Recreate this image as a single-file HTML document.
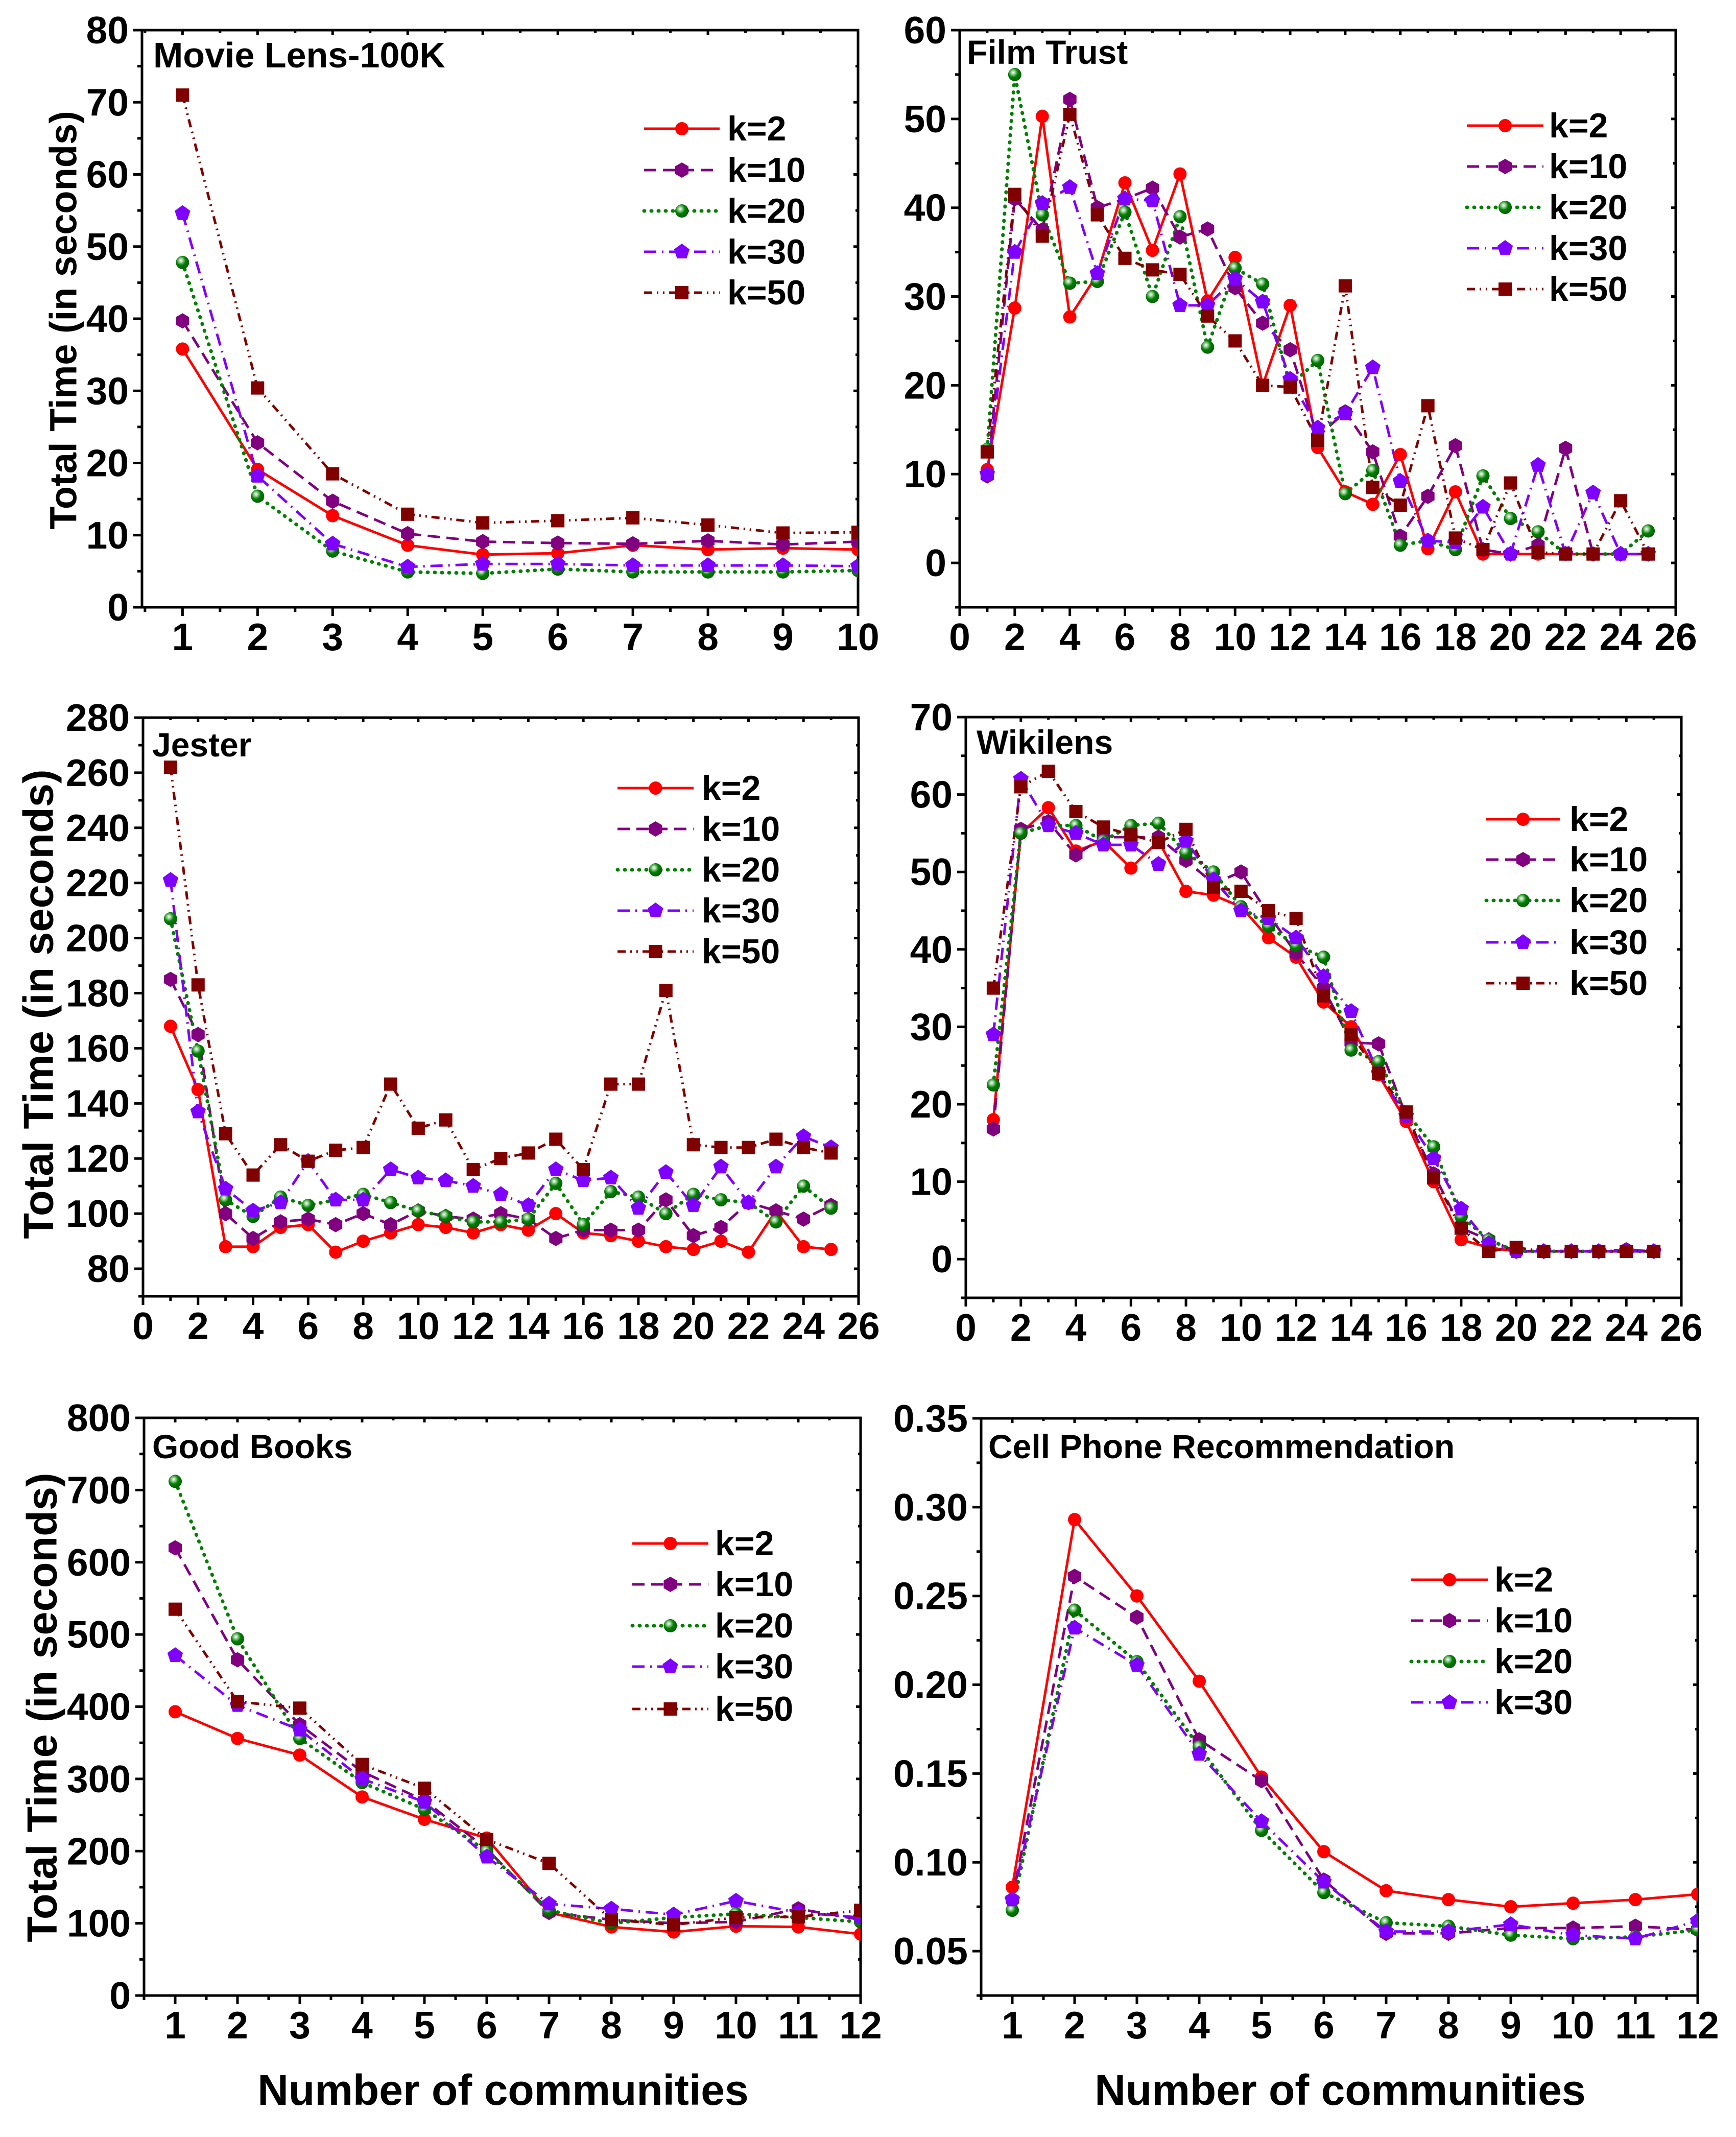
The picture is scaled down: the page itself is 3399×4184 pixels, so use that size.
<!DOCTYPE html>
<html><head><meta charset="utf-8"><title>Total time vs number of communities</title>
<style>
html,body{margin:0;padding:0;background:#fff;}
svg{display:block;}
text{font-family:"Liberation Sans",Arial,sans-serif;font-weight:bold;fill:#000;}
</style></head>
<body>
<svg id="fig" xmlns="http://www.w3.org/2000/svg" width="3399" height="4184" viewBox="0 0 3399 4184">
<defs>
<radialGradient id="sph" cx="0.38" cy="0.35" r="0.65">
<stop offset="0" stop-color="#ffffff"/><stop offset="0.25" stop-color="#8fc98f"/><stop offset="0.55" stop-color="#008000"/><stop offset="1" stop-color="#006000"/>
</radialGradient>
</defs>
<text x="0" y="0" font-size="74" text-anchor="middle" dominant-baseline="central" transform="translate(124,627) rotate(-90)">Total Time (in seconds)</text>
<text x="0" y="0" font-size="83" text-anchor="middle" dominant-baseline="central" transform="translate(75,1966) rotate(-90)">Total Time (in seconds)</text>
<text x="0" y="0" font-size="83" text-anchor="middle" dominant-baseline="central" transform="translate(82,3343) rotate(-90)">Total Time (in seconds)</text>
<text x="985" y="4092" font-size="84" text-anchor="middle" dominant-baseline="central">Number of communities</text>
<text x="2624" y="4092" font-size="84" text-anchor="middle" dominant-baseline="central">Number of communities</text>
</svg>
<script>
// ---- Data ----
const seriesNames = ["k=2","k=10","k=20","k=30","k=50"];
const ml_x = [1,2,3,4,5,6,7,8,9,10];
const ml_k2 = [35.8,19.1,12.7,8.6,7.3,7.5,8.6,8.0,8.2,8.0];
const ml_k10 = [39.7,22.8,14.7,10.2,9.1,8.9,8.8,9.2,8.7,9.1];
const ml_k20 = [47.8,15.4,7.8,4.9,4.7,5.3,4.9,4.9,4.9,5.1];
const ml_k30 = [54.6,18.2,8.8,5.6,6.0,6.0,5.8,5.8,5.8,5.7];
const ml_k50 = [71.0,30.4,18.5,12.9,11.7,12.0,12.4,11.4,10.3,10.4];
const ml_yticks = [0,10,20,30,40,50,60,70,80];
const ml_xticks = [1,2,3,4,5,6,7,8,9,10];

const ft_x = [1,2,3,4,5,6,7,8,9,10,11,12,13,14,15,16,17,18,19,20,21,22,23,24,25];
const ft_k2 = [10.5,28.7,50.3,27.7,32.5,42.8,35.2,43.8,29.5,34.4,20.0,29.0,13.0,8.0,6.6,12.2,1.6,8.0,1.0,1.0,1.0,1.0,1.0,1.0,1.0];
const ft_k10 = [9.8,41.0,37.5,52.2,40.0,41.0,42.2,36.7,37.6,31.0,27.0,24.0,14.2,17.0,12.5,3.0,7.5,13.2,1.5,1.0,2.0,12.9,1.0,1.0,1.0];
const ft_k20 = [12.8,55.0,39.2,31.5,31.7,39.5,30.0,39.0,24.3,33.2,31.4,20.0,22.8,7.8,10.4,2.0,2.5,1.5,9.8,5.0,3.5,1.0,1.0,1.0,3.6];
const ft_k30 = [10.0,35.0,40.5,42.3,32.6,41.0,40.8,29.0,29.0,32.0,29.4,20.7,15.2,16.8,22.0,9.2,2.5,2.3,6.3,1.0,11.0,1.0,7.9,1.0,1.0];
const ft_k50 = [12.5,41.5,36.8,50.5,39.2,34.3,33.0,32.5,27.8,25.0,20.0,19.8,13.8,31.2,8.5,6.5,17.7,2.8,1.5,9.0,1.2,1.0,1.0,7.0,1.0];
const ft_yticks = [0,10,20,30,40,50,60];
const ft_xticks = [0,2,4,6,8,10,12,14,16,18,20,22,24,26];

const je_x = ft_x;
const je_k2 = [168,145,88,88,95,96,86,90,93,96,95,93,96,94,100,93,92,90,88,87,90,86,101,88,87];
const je_k10 = [185,165,100,91,97,98,96,100,96,101,99,98,100,98,91,94,94,94,105,92,95,104,101,98,103];
const je_k20 = [207,159,105,99,106,103,105,107,104,101,99,97,97,98,111,96,108,106,100,107,105,104,97,110,102];
const je_k30 = [221,137,109,101,104,119,105,105,116,113,112,110,107,103,116,112,113,102,115,103,117,104,117,128,124];
const je_k50 = [262,183,129,114,125,119,123,124,147,131,134,116,120,122,127,116,147,147,181,125,124,124,127,124,122];
const je_yticks = [80,100,120,140,160,180,200,220,240,260,280];
const je_xticks = ft_xticks;

const wk_x = ft_x;
const wk_k2 = [18,55,58.3,52.7,54,50.5,54,47.5,47,45.5,41.5,39,33.2,30,23.8,17.8,10,2.5,1.5,1,1,1,1,1,1];
const wk_k10 = [16.8,55.5,56.5,52.2,54.5,54.5,54.5,51.5,48.5,50,44.5,39.5,35,28,27.8,18.5,11,4,2.5,1,1,1,1,1.2,1];
const wk_k20 = [22.5,55,56,56,54,56,56.3,52.5,50,45.5,43,40.5,39,27,25.5,19,14.5,5.5,2.5,1,1,1,1,1,1];
const wk_k30 = [29,62,56,55,53.5,53.5,51,54,49,45,44,41.5,36.5,32,24,18.5,13,6.5,2,1,1,1,1,1,1];
const wk_k50 = [35,61,63,57.8,55.8,54.8,53.8,55.5,48,47.5,45,44,34,29,24,19,10.5,4,1,1.5,1,1,1,1,1];
const wk_yticks = [0,10,20,30,40,50,60,70];
const wk_xticks = ft_xticks;

const gb_x = [1,2,3,4,5,6,7,8,9,10,11,12];
const gb_k2 = [393,356,333,275,244,218,115,95,88,96,95,85];
const gb_k10 = [620,465,375,310,270,203,115,105,100,102,120,105];
const gb_k20 = [712,494,356,295,258,200,118,100,108,113,108,102];
const gb_k30 = [471,402,368,300,268,192,127,120,112,131,115,108];
const gb_k50 = [535,407,398,320,287,216,183,105,98,108,109,118];
const gb_yticks = [0,100,200,300,400,500,600,700,800];
const gb_xticks = [1,2,3,4,5,6,7,8,9,10,11,12];

const cp_x = gb_x;
const cp_k2 = [0.086,0.293,0.250,0.202,0.148,0.106,0.084,0.079,0.075,0.077,0.079,0.082];
const cp_k10 = [0.079,0.261,0.238,0.169,0.146,0.090,0.060,0.060,0.063,0.063,0.064,0.062];
const cp_k20 = [0.073,0.242,0.213,0.165,0.118,0.083,0.066,0.064,0.059,0.057,0.058,0.062];
const cp_k30 = [0.079,0.232,0.211,0.161,0.123,0.089,0.061,0.061,0.065,0.059,0.057,0.067];
const cp_yticks = [0.05,0.10,0.15,0.20,0.25,0.30,0.35];
const cp_ytickLabels = ["0.05","0.10","0.15","0.20","0.25","0.30","0.35"];
const cp_xticks = gb_x;

// ---- Styles ----
const colors = ["#ff0000","#800080","#008000","#8000ff","#800000"];
const dashes = ["none","24 13","1 13","24 11 3 11","16 9 3 9 3 9"];
const shapes = ["circle","hexagon","sphere","pentagon","square"];

const panels = [
 {id:"movielens",title:"Movie Lens-100K",L:278,R:1680,T:59,B:1189,x0:0.46,x1:10,y0:0,y1:80,
  xs:ml_x,series:[ml_k2,ml_k10,ml_k20,ml_k30,ml_k50],xt:ml_xticks,yt:ml_yticks,yl:null,xmin:0.5,ymin:5,
  leg:{x1:1261,x2:1409,tx:1424,ys:[252,333,413,493,573]},tx:300,ty:108,ts:70},
 {id:"filmtrust",title:"Film Trust",L:1879,R:3281,T:59,B:1189,x0:0,x1:26,y0:-5,y1:60,
  xs:ft_x,series:[ft_k2,ft_k10,ft_k20,ft_k30,ft_k50],xt:ft_xticks,yt:ft_yticks,yl:null,xmin:1,ymin:5,
  leg:{x1:2872,x2:3022,tx:3033,ys:[246,326,406,486,566]},tx:1893,ty:102,ts:66},
 {id:"jester",title:"Jester",L:280,R:1681,T:1405,B:2538,x0:0,x1:26,y0:70,y1:280,
  xs:je_x,series:[je_k2,je_k10,je_k20,je_k30,je_k50],xt:je_xticks,yt:je_yticks,yl:null,xmin:1,ymin:10,
  leg:{x1:1209,x2:1358,tx:1374,ys:[1543,1623,1703,1783,1863]},tx:298,ty:1458,ts:66},
 {id:"wikilens",title:"Wikilens",L:1891,R:3292,T:1404,B:2541,x0:0,x1:26,y0:-5,y1:70,
  xs:wk_x,series:[wk_k2,wk_k10,wk_k20,wk_k30,wk_k50],xt:wk_xticks,yt:wk_yticks,yl:null,xmin:1,ymin:5,
  leg:{x1:2910,x2:3054,tx:3073,ys:[1604,1683,1763,1845,1925]},tx:1912,ty:1453,ts:66},
 {id:"goodbooks",title:"Good Books",L:282,R:1685,T:2776,B:3907,x0:0.5,x1:12,y0:0,y1:800,
  xs:gb_x,series:[gb_k2,gb_k10,gb_k20,gb_k30,gb_k50],xt:gb_xticks,yt:gb_yticks,yl:null,xmin:0.5,ymin:50,
  leg:{x1:1238,x2:1387,tx:1400,ys:[3022,3102,3183,3263,3346]},tx:298,ty:2832,ts:66},
 {id:"cellphone",title:"Cell Phone Recommendation",L:1921,R:3324,T:2777,B:3907,x0:0.5,x1:12,y0:0.025,y1:0.35,
  xs:cp_x,series:[cp_k2,cp_k10,cp_k20,cp_k30],xt:cp_xticks,yt:cp_yticks,yl:cp_ytickLabels,xmin:0.5,ymin:0.025,
  leg:{x1:2763,x2:2913,tx:2926,ys:[3093,3173,3253,3333]},tx:1935,ty:2832,ts:66}
];

const NS="http://www.w3.org/2000/svg";
const svg=document.getElementById("fig");
const defs=svg.querySelector("defs");
function mk(tag,attrs,parent){const e=document.createElementNS(NS,tag);for(const k in attrs)e.setAttribute(k,attrs[k]);(parent||svg).appendChild(e);return e;}

function polyPts(cx,cy,r,n,rot){let p=[];for(let i=0;i<n;i++){const a=rot+i*2*Math.PI/n;p.push((cx+r*Math.cos(a)).toFixed(1)+","+(cy+r*Math.sin(a)).toFixed(1));}return p.join(" ");}
function marker(g,shape,color,cx,cy){
  const s=13;let m;
  if(shape==="circle") m=mk("circle",{cx:cx,cy:cy,r:s,fill:color},g);
  else if(shape==="sphere") m=mk("circle",{cx:cx,cy:cy,r:s,fill:"url(#sph)"},g);
  else if(shape==="square") m=mk("rect",{x:cx-s,y:cy-s,width:2*s,height:2*s,fill:color},g);
  else if(shape==="hexagon") m=mk("polygon",{points:polyPts(cx,cy,s+2,6,-Math.PI/2),fill:color},g);
  else m=mk("polygon",{points:polyPts(cx,cy,s+3,5,-Math.PI/2),fill:color},g);
  
  
  return m;
}
function fmt(v){return String(v);}

panels.forEach((p,pi)=>{
  const sx=v=>p.L+(v-p.x0)/(p.x1-p.x0)*(p.R-p.L);
  const sy=v=>p.B-(v-p.y0)/(p.y1-p.y0)*(p.B-p.T);
  const g=mk("g",{});
  
  
  const cp=mk("clipPath",{id:"clip"+pi},defs);
  mk("rect",{x:p.L,y:p.T,width:p.R-p.L,height:p.B-p.T},cp);

  const tg=mk("g",{stroke:"#000","stroke-width":5},g);
  
  
  for(let v=Math.ceil(p.x0/p.xmin)*p.xmin; v<=p.x1+1e-9; v+=p.xmin){
    const X=sx(v); if(X<p.L-1||X>p.R+1) continue;
    const major=p.xt.some(t=>Math.abs(t-v)<1e-9);
    mk("line",{x1:X,y1:p.B,x2:X,y2:p.B+(major?17:9)},tg);
    mk("line",{x1:X,y1:p.T,x2:X,y2:p.T+(major?9:5)},tg);
  }
  const ystart=Math.ceil((p.y0-1e-9)/p.ymin);
  for(let i=ystart;;i++){
    const v=i*p.ymin; if(v>p.y1+1e-9) break;
    const Y=sy(v);
    const major=p.yt.some(t=>Math.abs(t-v)<1e-9);
    mk("line",{x1:p.L,y1:Y,x2:p.L-(major?17:9),y2:Y},tg);
    mk("line",{x1:p.R,y1:Y,x2:p.R-(major?9:5),y2:Y},tg);
  }
  const fr=mk("rect",{x:p.L,y:p.T,width:p.R-p.L,height:p.B-p.T,fill:"none",stroke:"#000","stroke-width":5},g);
  
  

  p.xt.forEach(t=>{
    const e=mk("text",{x:sx(t),y:p.B+58,"font-size":75,"text-anchor":"middle","dominant-baseline":"central"},g);
    e.textContent=fmt(t);
    
    
  });
  p.yt.forEach((t,i)=>{
    const e=mk("text",{x:p.L-26,y:sy(t),"font-size":75,"text-anchor":"end","dominant-baseline":"central"},g);
    e.textContent=p.yl?p.yl[i]:fmt(t);
    
    
  });

  const ti=mk("text",{x:p.tx,y:p.ty,"font-size":p.ts,"dominant-baseline":"central"},g);
  ti.textContent=p.title;
  
  

  const dg=mk("g",{"clip-path":"url(#clip"+pi+")"},g);
  
  
  p.series.forEach((vals,si)=>{
    const pts=vals.map((v,i)=>sx(p.xs[i]).toFixed(1)+","+sy(v).toFixed(1)).join(" ");
    const attrs={points:pts,fill:"none",stroke:colors[si],"stroke-width":5,"stroke-linejoin":"round"};
    if(dashes[si]!=="none"){attrs["stroke-dasharray"]=dashes[si];}
    if(si===2){attrs["stroke-linecap"]="round";attrs["stroke-width"]=7;}
    const pl=mk("polyline",attrs,dg);
    
    
  });
  p.series.forEach((vals,si)=>{
    vals.forEach((v,i)=>marker(dg,shapes[si],colors[si],sx(p.xs[i]),sy(v)));
  });

  const lg=mk("g",{},g);
  
  
  p.series.forEach((vals,si)=>{
    const y=p.leg.ys[si];
    const eg=mk("g",{},lg);
    
    
    const a={x1:p.leg.x1,y1:y,x2:p.leg.x2,y2:y,stroke:colors[si],"stroke-width":5};
    if(dashes[si]!=="none")a["stroke-dasharray"]=dashes[si];
    if(si===2){a["stroke-linecap"]="round";a["stroke-width"]=7;}
    mk("line",a,eg);
    marker(eg,shapes[si],colors[si],(p.leg.x1+p.leg.x2)/2,y);
    const t=mk("text",{x:p.leg.tx,y:y,"font-size":68,"dominant-baseline":"central"},eg);
    t.textContent=seriesNames[si];
  });
});
</script>
</body></html>
